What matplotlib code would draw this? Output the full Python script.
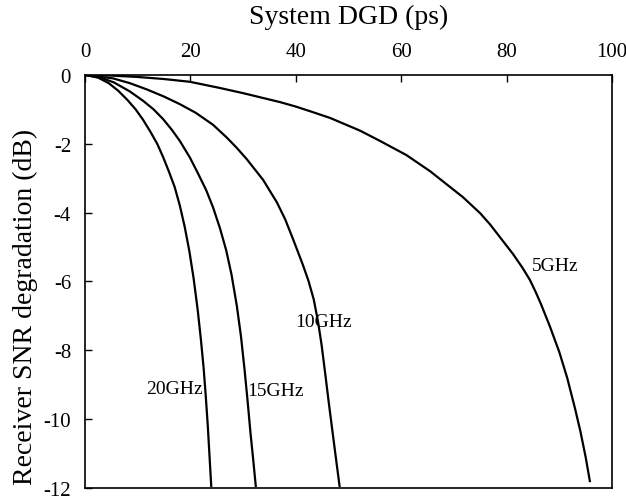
import matplotlib
matplotlib.use("Agg")
import matplotlib.pyplot as plt

plt.rcParams['font.family'] = ['Liberation Serif', 'DejaVu Serif']

# Read-off data: System DGD (ps) vs Receiver SNR degradation (dB)
dgd_5 = [0, 5, 10, 15, 19.9, 25.6, 30, 37, 40, 43, 46.5, 52.2, 56, 61, 65.5, 71.7, 75, 76.9,
         81.2, 83, 84.4, 85.5, 86.5, 88.2, 90, 91.5, 93, 94, 95, 95.8]
snr_5 = [0, -0.02, -0.06, -0.12, -0.2, -0.38, -0.53, -0.79, -0.92, -1.07, -1.25, -1.62, -1.92, -2.33,
         -2.8, -3.55, -4.02, -4.35, -5.2, -5.6, -5.95, -6.3, -6.65, -7.3, -8.05, -8.8, -9.7, -10.35,
         -11.1, -11.8]

dgd_10 = [0, 5.3, 8.5, 11.7, 15, 18, 21, 24.3, 26.9, 28.8, 30.7, 33.8, 36.4, 38, 39.5, 41.3,
          42.4, 43.4, 44.2, 44.9, 45.6, 46.2, 46.8, 47.5, 48.3]
snr_10 = [0, -0.1, -0.24, -0.42, -0.63, -0.85, -1.1, -1.45, -1.82, -2.12, -2.45, -3.05, -3.7, -4.2,
          -4.78, -5.5, -5.98, -6.52, -7.15, -7.85, -8.7, -9.45, -10.17, -11.0, -11.94]

dgd_15 = [0, 3, 5.5, 8.5, 11, 13, 14.8, 16.5, 18, 19.9, 21.5, 23, 24.3, 25.6, 26.8, 27.8, 28.8,
          29.6, 30.3, 30.9, 31.4, 31.9, 32.4]
snr_15 = [0, -0.08, -0.22, -0.48, -0.75, -1.0, -1.28, -1.6, -1.92, -2.4, -2.88, -3.35, -3.85, -4.45,
          -5.1, -5.8, -6.7, -7.6, -8.6, -9.55, -10.4, -11.15, -11.94]

dgd_20 = [0, 2.5, 4.5, 6.3, 8, 9.6, 11, 12.4, 13.7, 14.8, 15.9, 17, 18, 18.9, 19.8, 20.6, 21.4,
          22, 22.5, 22.9, 23.3, 23.6, 23.95]
snr_20 = [0, -0.08, -0.24, -0.46, -0.72, -1.0, -1.3, -1.65, -2.0, -2.38, -2.8, -3.25, -3.8, -4.4,
          -5.12, -5.9, -6.85, -7.7, -8.5, -9.3, -10.2, -11.0, -11.94]

curve_labels = ["5GHz", "10GHz", "15GHz", "20GHz"]
x_ticks = [0, 20, 40, 60, 80, 100]
y_ticks = [0, -2, -4, -6, -8, -10, -12]

fig = plt.figure(figsize=(6.26, 5.02), dpi=100)
ax = fig.add_axes([0.1358, 0.026, 0.8418, 0.8228])

for xs, ys in [(dgd_5, snr_5), (dgd_10, snr_10), (dgd_15, snr_15), (dgd_20, snr_20)]:
    ax.plot(xs, ys, color='black', lw=1.6, solid_joinstyle='round')

ax.set_xlim(0, 100)
ax.set_ylim(-12, 0)
ax.xaxis.tick_top()
ax.xaxis.set_label_position('top')
ax.set_xticks(x_ticks)
ax.set_yticks(y_ticks)
ax.set_xticklabels([str(v) for v in x_ticks])
ax.set_yticklabels([str(v) for v in y_ticks])
ax.tick_params(direction='in', length=5, width=1, labelsize=15, pad=10,
               top=True, bottom=False, left=True, right=False)
ax.set_xlabel("System DGD (ps)", fontsize=20, labelpad=14)
ax.set_ylabel("Receiver SNR degradation (dB)", fontsize=20)
ax.yaxis.set_label_coords(-0.09, 0.44)
for s in ax.spines.values():
    s.set_linewidth(1.2)

ax.text(84.8, -5.54, curve_labels[0], fontsize=14, ha='left', va='center')
ax.text(39.8, -7.16, curve_labels[1], fontsize=14, ha='left', va='center')
ax.text(30.7, -9.16, curve_labels[2], fontsize=14, ha='left', va='center')
ax.text(22.4, -9.1, curve_labels[3], fontsize=14, ha='right', va='center')

fig.savefig("out.png", dpi=100)
